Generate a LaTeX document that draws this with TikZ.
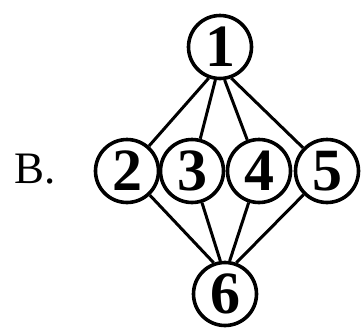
\documentclass[tikz,border=0pt]{standalone}
\usepackage{fontspec}
\setmainfont{Liberation Serif}
\begin{document}
\begin{tikzpicture}[x=1pt,y=-1pt,
  vert/.style={circle,draw,line width=3.6pt,inner sep=0pt,minimum size=63pt,
    font=\fontsize{60}{60}\selectfont\bfseries},
  edge/.style={line width=3pt}]
\useasboundingbox (0,0) rectangle (364,327);
\node[vert] (n1) at (220,47) {1};
\node[vert] (n2) at (127,171) {2};
\node[vert] (n3) at (192,171) {3};
\node[vert] (n4) at (259,171) {4};
\node[vert] (n5) at (327,171) {5};
\node[vert] (n6) at (225,294) {6};
\node[anchor=base west,inner sep=0pt,font=\fontsize{45}{45}\selectfont] (lb) at (14,183) {B.};
\draw[edge] (n1.250) -- (n2);
\draw[edge] (n1.262) -- (n3);
\draw[edge] (n1.278) -- (n4);
\draw[edge] (n1.290) -- (n5);
\draw[edge] (n2) -- (n6.110);
\draw[edge] (n3) -- (n6.98);
\draw[edge] (n4) -- (n6.82);
\draw[edge] (n5) -- (n6.70);
\end{tikzpicture}
\end{document}
